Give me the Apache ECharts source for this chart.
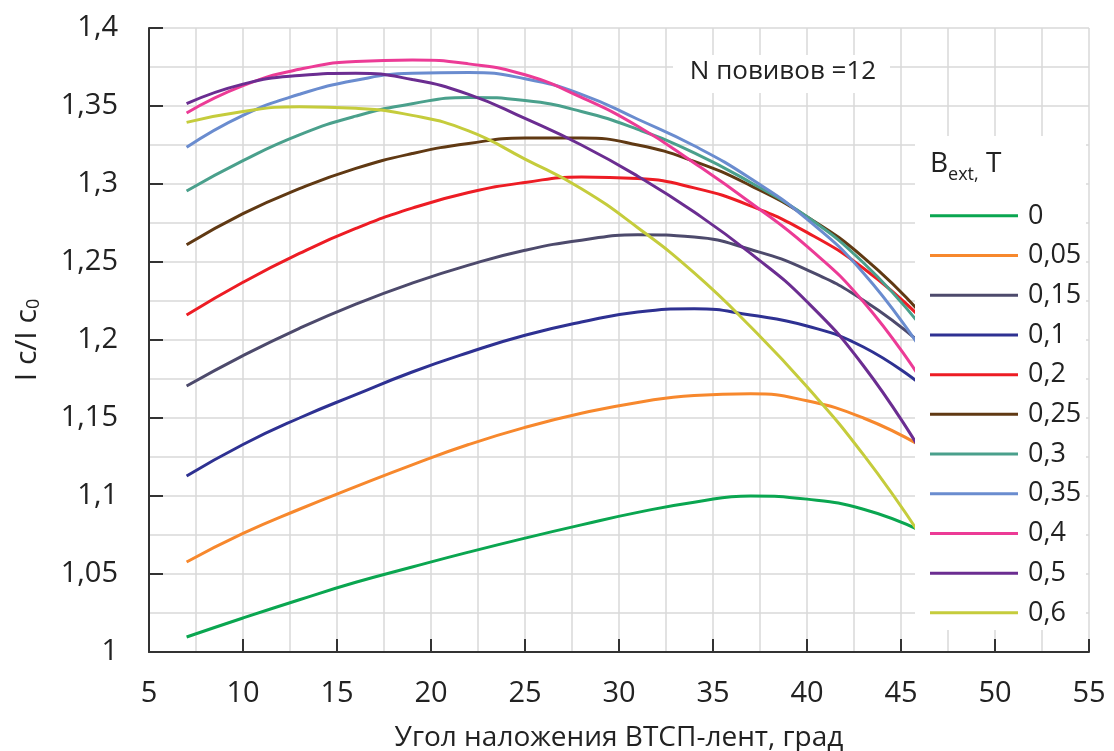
<!DOCTYPE html>
<html><head><meta charset="utf-8">
<script src="https://cdn.jsdelivr.net/npm/echarts@6/dist/echarts.min.js"></script>
<style>html,body{margin:0;padding:0;background:#fff}#c{width:1114px;height:751px}</style>
</head><body><div id="c"></div>
<script>
// Angle of tape laying, degrees
const angles = [7, 10, 13, 16, 19, 22, 25, 28, 31, 34, 37, 40, 43, 46];
const seriesNames = ['0', '0,05', '0,15', '0,1', '0,2', '0,25', '0,3', '0,35', '0,4', '0,5', '0,6'];
const seriesColors = ['#0aa650', '#f7882d', '#4d4a6c', '#2e3192', '#ed1c24', '#603913', '#4aa08c', '#6a8ccf', '#ec3b96', '#6b2d91', '#c5cc3c'];
const b000 = [1.0096, 1.0218, 1.0335, 1.0447, 1.0545, 1.0640, 1.0730, 1.0815, 1.0895, 1.0960, 1.1000, 1.0980, 1.0915, 1.0780];
const b005 = [1.0577, 1.0760, 1.0915, 1.1060, 1.1200, 1.1330, 1.1440, 1.1530, 1.1600, 1.1645, 1.1655, 1.1610, 1.1500, 1.1325];
const b015 = [1.1705, 1.1900, 1.2075, 1.2230, 1.2365, 1.2480, 1.2575, 1.2640, 1.2675, 1.2660, 1.2580, 1.2450, 1.2255, 1.1985];
const b010 = [1.1128, 1.1330, 1.1500, 1.1650, 1.1795, 1.1920, 1.2030, 1.2115, 1.2180, 1.2200, 1.2160, 1.2090, 1.1955, 1.1720];
const b020 = [1.2160, 1.2370, 1.2555, 1.2715, 1.2845, 1.2945, 1.3010, 1.3045, 1.3035, 1.2975, 1.2860, 1.2690, 1.2460, 1.2150];
const b025 = [1.2610, 1.2810, 1.2970, 1.3100, 1.3195, 1.3260, 1.3295, 1.3295, 1.3250, 1.3145, 1.2990, 1.2790, 1.2530, 1.2180];
const b030 = [1.2955, 1.3150, 1.3315, 1.3435, 1.3515, 1.3555, 1.3535, 1.3465, 1.3350, 1.3200, 1.3010, 1.2790, 1.2495, 1.2100];
const b035 = [1.3235, 1.3440, 1.3575, 1.3665, 1.3710, 1.3715, 1.3675, 1.3575, 1.3415, 1.3245, 1.3035, 1.2775, 1.2430, 1.1955];
const b040 = [1.3455, 1.3630, 1.3735, 1.3785, 1.3795, 1.3770, 1.3700, 1.3555, 1.3370, 1.3135, 1.2880, 1.2600, 1.2245, 1.1760];
const b050 = [1.3515, 1.3640, 1.3695, 1.3710, 1.3670, 1.3575, 1.3420, 1.3250, 1.3050, 1.2820, 1.2555, 1.2245, 1.1835, 1.1300];
const b060 = [1.3395, 1.3465, 1.3495, 1.3485, 1.3440, 1.3340, 1.3160, 1.2970, 1.2720, 1.2430, 1.2085, 1.1700, 1.1265, 1.0755];
const seriesValues = [b000, b005, b015, b010, b020, b025, b030, b035, b040, b050, b060];
const yTickLabels = ['1', '1,05', '1,1', '1,15', '1,2', '1,25', '1,3', '1,35', '1,4'];
const xTickLabels = ['5', '10', '15', '20', '25', '30', '35', '40', '45', '50', '55'];

const FONT = 'Open Sans';
const TXT = '#222';
const chart = echarts.init(document.getElementById('c'), null, {renderer: 'canvas'});
const series = seriesNames.map((n, i) => ({
  name: n, type: 'line', smooth: 0.5, showSymbol: false, symbol: 'none',
  data: angles.map((a, j) => [a, seriesValues[i][j]]),
  lineStyle: {width: 3, color: seriesColors[i]},
  itemStyle: {color: seriesColors[i]},
  z: 2
}));
chart.setOption({
  animation: false,
  backgroundColor: '#fff',
  grid: {left: 149, top: 28, width: 940, height: 624, containLabel: false, outerBoundsMode: 'none'},
  xAxis: {
    type: 'value', min: 5, max: 55, interval: 5,
    name: 'Угол наложения ВТСП-лент, град', nameLocation: 'middle', nameGap: 72,
    nameTextStyle: {fontFamily: FONT, fontSize: 28, color: TXT},
    axisLine: {show: true, onZero: false, lineStyle: {color: '#333', width: 2}},
    axisTick: {show: true, inside: true, length: 13, lineStyle: {color: '#333', width: 2}},
    axisLabel: {fontFamily: FONT, fontSize: 29, color: TXT, margin: 27,
      formatter: v => xTickLabels[Math.round((v - 5) / 5)] ?? ''},
    splitLine: {show: true, lineStyle: {color: '#d9d9d9', width: 1.5}},
    minorTick: {show: false, splitNumber: 2},
    minorSplitLine: {show: true, lineStyle: {color: '#d9d9d9', width: 1.5}}
  },
  yAxis: {
    type: 'value', min: 1, max: 1.4, interval: 0.05,
    name: '{a|I c/I c}{s|0}', nameLocation: 'middle', nameGap: 106, nameRotate: 90,
    nameTextStyle: {fontFamily: FONT, fontSize: 30, color: TXT,
      rich: {a: {fontFamily: FONT, fontSize: 30, color: TXT},
             s: {fontFamily: FONT, fontSize: 18, color: TXT, verticalAlign: 'bottom', padding: [14, 0, 0, 0]}}},
    axisLine: {show: true, onZero: false, lineStyle: {color: '#333', width: 2}},
    axisTick: {show: true, inside: true, length: 14, lineStyle: {color: '#333', width: 2}},
    axisLabel: {fontFamily: FONT, fontSize: 29, color: TXT, margin: 31,
      formatter: v => yTickLabels[Math.round((v - 1) / 0.05)] ?? ''},
    splitLine: {show: true, lineStyle: {color: '#d9d9d9', width: 1.5}},
    minorTick: {show: false, splitNumber: 2},
    minorSplitLine: {show: true, lineStyle: {color: '#d9d9d9', width: 1.5}}
  },
  legend: {
    orient: 'vertical', left: 930, top: 196, padding: 0, itemGap: 0,
    icon: 'rect', itemWidth: 88, itemHeight: 3,
    data: seriesNames,
    textStyle: {fontFamily: FONT, fontSize: 27, color: TXT, lineHeight: 39.7, padding: [0, 0, 0, 5]},
    z: 20
  },
  graphic: [
    {type: 'rect', z: 10, shape: {x: 915, y: 136, width: 171, height: 494}, style: {fill: '#fff'}},
    {type: 'text', z: 11, left: 930, top: 150,
      style: {text: '{b|B}{s|ext,}{b| T}', rich: {
        b: {fontFamily: FONT, fontSize: 28, fill: TXT, verticalAlign: 'bottom'},
        s: {fontFamily: FONT, fontSize: 18, fill: TXT, verticalAlign: 'bottom', padding: [0, 0, -6, 0]}}}},
    {type: 'rect', z: 10, shape: {x: 673, y: 55, width: 217, height: 38}, style: {fill: '#fff'}},
    {type: 'text', z: 11, x: 783, y: 72,
      style: {text: 'N повивов =12', fontFamily: FONT, fontSize: 26, fill: TXT, align: 'center', verticalAlign: 'middle'}}
  ],
  series: series
});
</script></body></html>
